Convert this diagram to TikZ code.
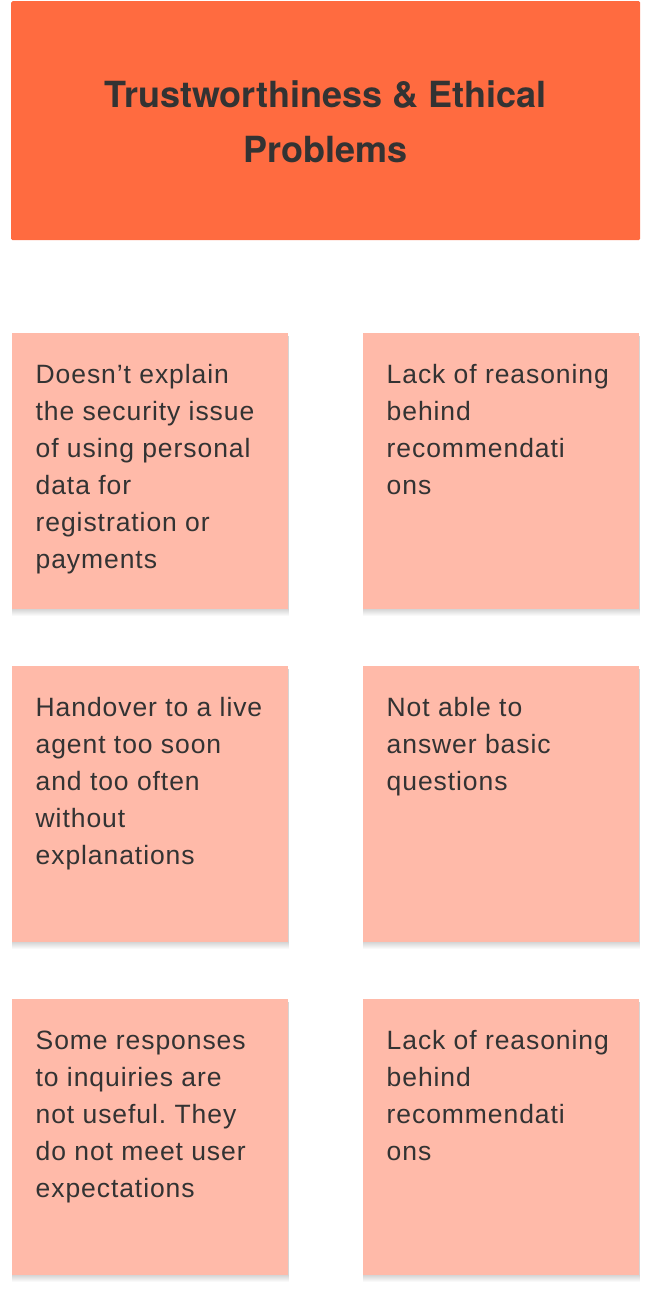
\documentclass[tikz,border=0pt]{standalone}
\usepackage{fontspec}
\setmainfont{Liberation Sans}[LetterSpace=3.5]
\newfontfamily\headfont{TeX Gyre Heros}
\definecolor{headorange}{HTML}{FF6B40}
\definecolor{stickypink}{HTML}{FFBAA9}
\definecolor{inkgrey}{HTML}{333333}
\frenchspacing
\tikzset{
  sticky/.style={rectangle, fill=stickypink, anchor=north west, inner sep=0pt,
    minimum width=276pt, minimum height=276pt},
  stickytext/.style={anchor=north west, inner sep=0pt, text=inkgrey, align=left,
    font=\fontsize{26.5}{37}\selectfont}
}
\begin{document}
\begin{tikzpicture}[x=1pt, y=-1pt]
  \useasboundingbox (0,0) rectangle (652,1296);
  \fill[white] (0,0) rectangle (652,1296);
  % header
  \node[rectangle, fill=headorange, rounded corners=1.5pt, anchor=north west, inner sep=0pt,
    minimum width=629pt, minimum height=239pt] (head) at (11,1) {};
  \node[text=inkgrey, align=center, font=\headfont\fontsize{36}{55}\selectfont\bfseries]
    (headtext) at ([yshift=-1pt]head.center) {Trustworthiness \& Ethical\\Problems};
  % stickies
  \foreach \nm/\x/\y/\txt in {
      a/12/333/{Doesn’t explain\\the security issue\\of using personal\\data for\\registration or\\payments},
      b/363/333/{Lack of reasoning\\behind\\recommendati\\ons},
      c/12/666/{Handover to a live\\agent too soon\\and too often\\without\\explanations},
      d/363/666/{Not able to\\answer basic\\questions},
      e/12/999/{Some responses\\to inquiries are\\not useful. They\\do not meet user\\expectations},
      f/363/999/{Lack of reasoning\\behind\\recommendati\\ons}} {
    % soft shadow
    \foreach \k in {1,...,7}
      \fill[black, opacity=0.025] (\x-0.5,\y+3) rectangle (\x+276.5,\y+276+\k);
    \node[sticky] (\nm) at (\x,\y) {};
    \node[stickytext] (\nm text) at ([xshift=23.5pt, yshift=-31.5pt]\nm.north west) {\txt};
  }
\end{tikzpicture}
\end{document}
